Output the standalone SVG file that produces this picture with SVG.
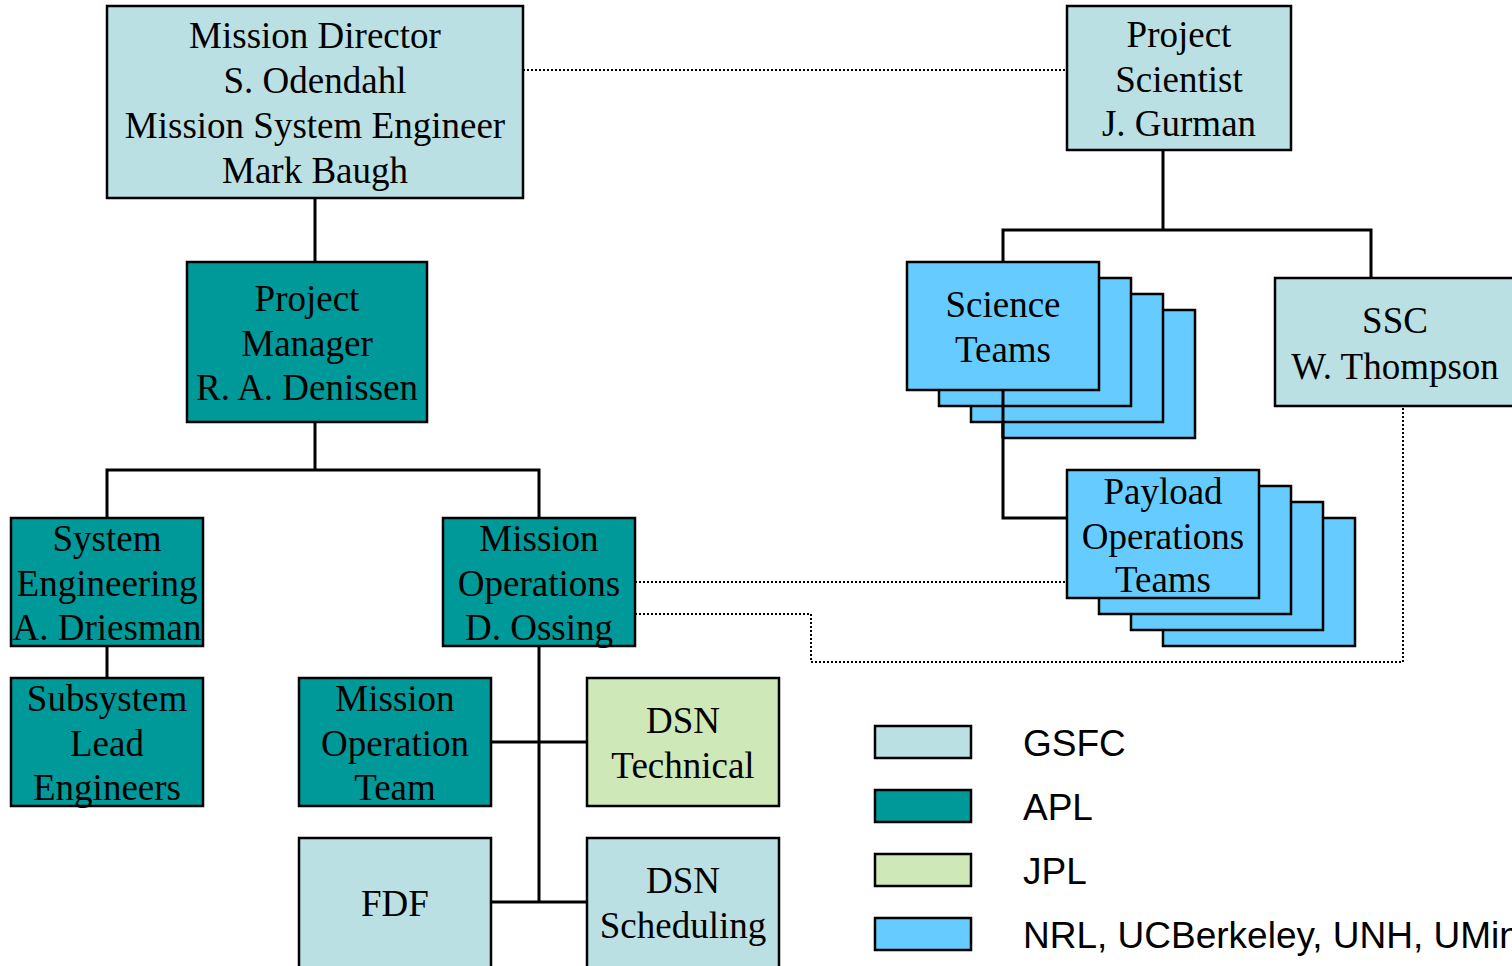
<svg xmlns="http://www.w3.org/2000/svg" width="1512" height="966" viewBox="0 0 1512 966">
<style>
.box{stroke:#000;stroke-width:2.5}
.gsfc{fill:#BAE0E3}
.apl{fill:#009999}
.jpl{fill:#CFE8B8}
.nrl{fill:#66CCFF}
.t{font-family:"Liberation Serif","Times New Roman",serif;font-size:37px;fill:#000;text-anchor:middle}
.lg{font-family:"Liberation Sans",Arial,sans-serif;font-size:37px;fill:#000}
.ln{stroke:#000;stroke-width:3;fill:none}
.dot{stroke:#000;stroke-width:2;fill:none;stroke-dasharray:2 2}
</style>
<rect width="1512" height="966" fill="#fff"/>
<g id="connectors">
<line class="dot" x1="523" y1="70" x2="1067" y2="70"/>
<path class="ln" d="M315 198V262"/>
<path class="ln" d="M315 422V470M107 518V470H539V518"/>
<path class="ln" d="M107 646V678"/>
<path class="ln" d="M539 646V902"/>
<path class="ln" d="M491 742H587"/>
<path class="ln" d="M491 902H587"/>
<path class="ln" d="M1163 150V230M1003 262V230H1371V278"/>
<path class="ln" d="M1003 390V518H1067"/>
<line class="dot" x1="635" y1="582" x2="1067" y2="582"/>
<path class="dot" d="M635 614H811V662H1403V406"/>
</g>
<g id="mission-director">
<rect class="box gsfc" x="107" y="6" width="416" height="192"/>
<text class="t" x="315" y="48">Mission Director</text>
<text class="t" x="315" y="93">S. Odendahl</text>
<text class="t" x="315" y="138">Mission System Engineer</text>
<text class="t" x="315" y="183">Mark Baugh</text>
</g>
<g id="project-scientist">
<rect class="box gsfc" x="1067" y="6" width="224" height="144"/>
<text class="t" x="1179" y="47">Project</text>
<text class="t" x="1179" y="92">Scientist</text>
<text class="t" x="1179" y="136">J. Gurman</text>
</g>
<g id="project-manager">
<rect class="box apl" x="187" y="262" width="240" height="160"/>
<text class="t" x="307" y="311">Project</text>
<text class="t" x="307" y="356">Manager</text>
<text class="t" x="307" y="400">R. A. Denissen</text>
</g>
<g id="system-engineering">
<rect class="box apl" x="11" y="518" width="192" height="128"/>
<text class="t" x="107" y="551">System</text>
<text class="t" x="107" y="596">Engineering</text>
<text class="t" x="107" y="640">A. Driesman</text>
</g>
<g id="mission-operations">
<rect class="box apl" x="443" y="518" width="192" height="128"/>
<text class="t" x="539" y="551">Mission</text>
<text class="t" x="539" y="596">Operations</text>
<text class="t" x="539" y="640">D. Ossing</text>
</g>
<g id="subsystem-lead-engineers">
<rect class="box apl" x="11" y="678" width="192" height="128"/>
<text class="t" x="107" y="711">Subsystem</text>
<text class="t" x="107" y="756">Lead</text>
<text class="t" x="107" y="800">Engineers</text>
</g>
<g id="mission-operation-team">
<rect class="box apl" x="299" y="678" width="192" height="128"/>
<text class="t" x="395" y="711">Mission</text>
<text class="t" x="395" y="756">Operation</text>
<text class="t" x="395" y="800">Team</text>
</g>
<g id="dsn-technical">
<rect class="box jpl" x="587" y="678" width="192" height="128"/>
<text class="t" x="683" y="733">DSN</text>
<text class="t" x="683" y="778">Technical</text>
</g>
<g id="fdf">
<rect class="box gsfc" x="299" y="838" width="192" height="130"/>
<text class="t" x="395" y="916">FDF</text>
</g>
<g id="dsn-scheduling">
<rect class="box gsfc" x="587" y="838" width="192" height="130"/>
<text class="t" x="683" y="893">DSN</text>
<text class="t" x="683" y="938">Scheduling</text>
</g>
<g id="science-teams">
<rect class="box nrl" x="1003" y="310" width="192" height="128"/>
<rect class="box nrl" x="971" y="294" width="192" height="128"/>
<rect class="box nrl" x="939" y="278" width="192" height="128"/>
<rect class="box nrl" x="907" y="262" width="192" height="128"/>
<text class="t" x="1003" y="317">Science</text>
<text class="t" x="1003" y="362">Teams</text>
</g>
<path class="ln" d="M1003 390V438"/>
<g id="ssc">
<rect class="box gsfc" x="1275" y="278" width="242" height="128"/>
<text class="t" x="1395" y="333">SSC</text>
<text class="t" x="1395" y="379">W. Thompson</text>
</g>
<g id="payload-operations-teams">
<rect class="box nrl" x="1163" y="518" width="192" height="128"/>
<rect class="box nrl" x="1131" y="502" width="192" height="128"/>
<rect class="box nrl" x="1099" y="486" width="192" height="128"/>
<rect class="box nrl" x="1067" y="470" width="192" height="128"/>
<text class="t" x="1163" y="504">Payload</text>
<text class="t" x="1163" y="549">Operations</text>
<text class="t" x="1163" y="592">Teams</text>
</g>
<g id="legend">
<rect class="box gsfc" x="875" y="726" width="96" height="32"/>
<text class="lg" x="1023" y="756">GSFC</text>
<rect class="box apl" x="875" y="790" width="96" height="32"/>
<text class="lg" x="1023" y="820">APL</text>
<rect class="box jpl" x="875" y="854" width="96" height="32"/>
<text class="lg" x="1023" y="884">JPL</text>
<rect class="box nrl" x="875" y="918" width="96" height="32"/>
<text class="lg" x="1023" y="948">NRL, UCBerkeley, UNH, UMinn</text>
</g>
</svg>
